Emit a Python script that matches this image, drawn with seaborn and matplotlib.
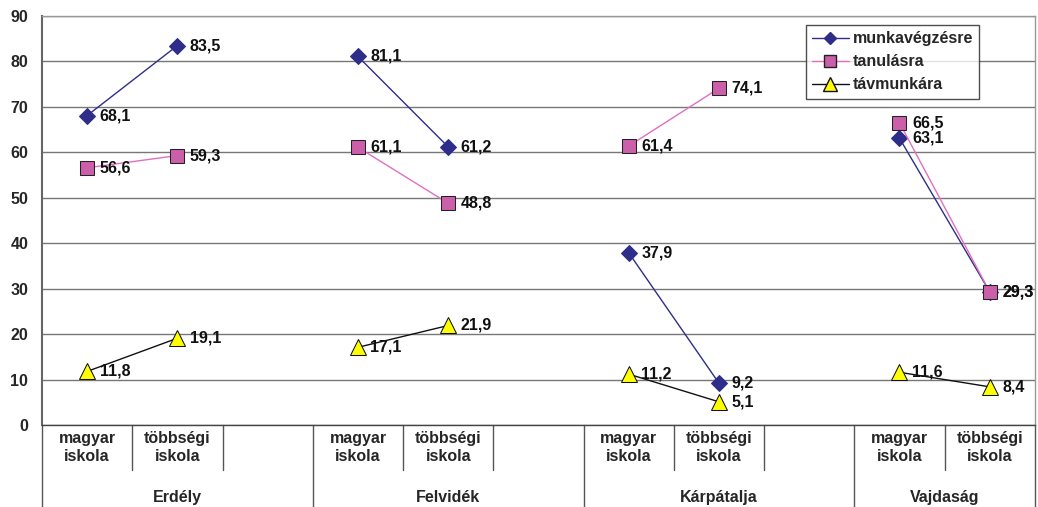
import pandas as pd
import matplotlib.pyplot as plt
import seaborn as sns

# adatok
regions = ['Erdély', 'Felvidék', 'Kárpátalja', 'Vajdaság']
schools = ['magyar\niskola', 'többségi\niskola']
series = ['munkavégzésre', 'tanulásra', 'távmunkára']
munka = [68.1, 83.5, 81.1, 61.2, 37.9, 9.2, 63.1, 29.3]
tanulas = [56.6, 59.3, 61.1, 48.8, 61.4, 74.1, 66.5, 29.3]
tavmunka = [11.8, 19.1, 17.1, 21.9, 11.2, 5.1, 11.6, 8.4]

rows = []
for name, vals in zip(series, [munka, tanulas, tavmunka]):
    for i, v in enumerate(vals):
        r, s = divmod(i, 2)
        rows.append({'series': name, 'region': regions[r], 'school': schools[s],
                     'pos': r * 3 + s, 'value': v})
df = pd.DataFrame(rows)

sns.set_style("white")
plt.rcParams['font.family'] = ['Liberation Sans', 'DejaVu Sans']
FS = 11.5

styles = {
    'munkavégzésre': dict(color='#2E2E8A', marker='D', markersize=8,
                          markerfacecolor='#2E2E8A', markeredgecolor='#2E2E8A'),
    'tanulásra': dict(color='#E070C0', marker='s', markersize=10,
                      markerfacecolor='#CC5FAA', markeredgecolor='#222222'),
    'távmunkára': dict(color='#111111', marker='^', markersize=11,
                       markerfacecolor='#FFFF00', markeredgecolor='#111111'),
}

fig = plt.figure(figsize=(10.38, 5.07), dpi=100)
ax = fig.add_axes([0.0405, 0.1617, 0.9565, 0.8067])

for name in series:
    sub = df[df['series'] == name]
    sns.lineplot(data=sub, x='pos', y='value', units='region', estimator=None,
                 ax=ax, linewidth=1, label=None, **styles[name])
    for _, row in sub.iterrows():
        ax.annotate(f"{row['value']:.1f}".replace('.', ','), (row['pos'], row['value']),
                    xytext=(9, 0), textcoords='offset points', va='center', ha='left',
                    fontsize=FS, fontweight='bold', color='#111111')

ax.set_xlim(-0.5, 10.5)
ax.set_ylim(0, 90)
ax.set_yticks(range(0, 91, 10))
ax.set_yticklabels([str(v) for v in range(0, 91, 10)], fontsize=FS, fontweight='bold')
ax.tick_params(axis='y', length=6, width=1, color='#555555', direction='out', pad=4)
ax.set_xticks([])
ax.set_xlabel('')
ax.set_ylabel('')
ax.yaxis.grid(True, color='#777777', linewidth=1)
ax.set_axisbelow(True)
for side in ['top', 'right']:
    ax.spines[side].set_color('#999999')
    ax.spines[side].set_linewidth(1)
ax.spines['left'].set_color('#666666')
ax.spines['left'].set_linewidth(1.5)
ax.spines['bottom'].set_color('#444444')
ax.spines['bottom'].set_linewidth(1)

# kategória-tengely két szinten
tr = ax.get_xaxis_transform()
for b in range(12):
    x = b - 0.5
    if b % 3 == 0 or b == 11:
        ax.plot([x, x], [0, -0.205], transform=tr, color='#555555', lw=1, clip_on=False)
    else:
        ax.plot([x, x], [0, -0.11], transform=tr, color='#555555', lw=1, clip_on=False)
for r, reg in enumerate(regions):
    for s, sch in enumerate(schools):
        ax.text(r * 3 + s, -0.055, sch, transform=tr, ha='center', va='center',
                fontsize=FS, fontweight='bold', linespacing=1.2)
    center = r * 3 + (1 if r < 3 else 0.5)
    ax.text(center, -0.178, reg, transform=tr, ha='center', va='center',
            fontsize=FS, fontweight='bold')

handles = []
for n in series:
    st = dict(styles[n])
    st['markersize'] = st['markersize'] - 1.5
    handles.append(plt.Line2D([], [], linewidth=1, **st))
leg = ax.legend(handles, series, loc='upper left', bbox_to_anchor=(0.769, 0.978),
                borderaxespad=0, frameon=True, fancybox=False, edgecolor='#222222',
                prop={'weight': 'bold', 'size': FS}, handlelength=2.3,
                borderpad=0.4, labelspacing=0.5, handletextpad=0.25)
leg.get_frame().set_linewidth(1)

fig.savefig('out.png', dpi=100)
